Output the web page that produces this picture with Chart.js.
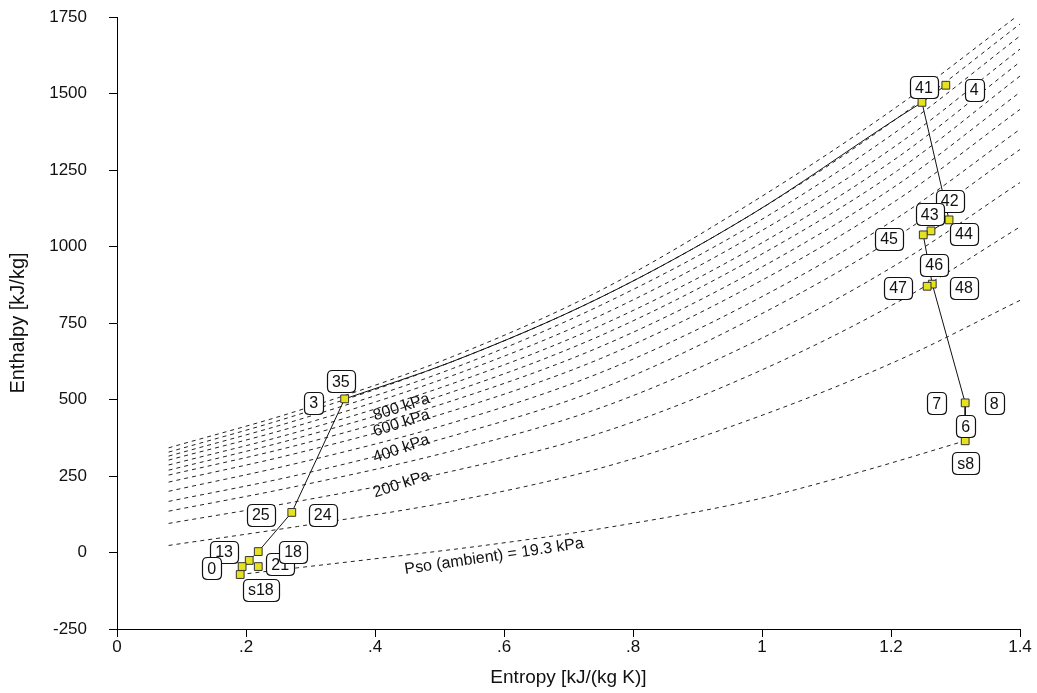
<!DOCTYPE html>
<html>
<head>
<meta charset="utf-8">
<script src="https://cdn.jsdelivr.net/npm/chart.js@4.4.1/dist/chart.umd.min.js"></script>
<style>
  html, body { margin: 0; padding: 0; background: #fff; }
  #wrap { width: 1037px; height: 693px; }
</style>
</head>
<body>
<div id="wrap"><canvas id="hsChart"></canvas></div>
<script>
// --- Data: isobars ---
const entropyGrid = [0.08, 0.28, 0.52, 0.75, 0.98, 1.21, 1.4];
const h100 = [23, 85, 167, 276, 433, 627, 824];
const h200 = [95, 167, 266, 391, 578, 818, 1064];
const h300 = [135, 217, 332, 473, 680, 943, 1209];
const h400 = [167, 253, 381, 535, 759, 1034, 1317];
const h500 = [200, 292, 424, 588, 814, 1094, 1383];
const h600 = [230, 325, 463, 634, 867, 1153, 1448];
const h700 = [253, 351, 496, 673, 910, 1202, 1504];
const h800 = [269, 374, 525, 709, 952, 1248, 1557];
const h900 = [286, 394, 552, 742, 988, 1291, 1603];
const h1000 = [302, 414, 578, 775, 1028, 1333, 1645];
const h1100 = [315, 433, 601, 808, 1064, 1378, 1688];
const h1200 = [328, 450, 624, 834, 1100, 1420, 1727];
const h1300 = [342, 463, 640, 857, 1138, 1458, 1760];
const isobars = [h100, h200, h300, h400, h500, h600, h700, h800, h900, h1000, h1100, h1200, h1300];

// ambient pressure isobar
const psoS = [0.19, 0.28, 0.41, 0.58, 0.75, 0.98, 1.15, 1.315];
const psoH = [-72, -50, -18, 26, 78, 168, 262, 365];

// process lines
const heatS = [0.353, 0.52, 0.75, 0.98, 1.21, 1.248];
const heatH = [502, 624, 834, 1100, 1420, 1471];
const pumpS = [0.353, 0.271, 0.219, 0.205, 0.194, 0.191];
const pumpH = [502, 131, 3, -26, -46, -72];
const turbS = [1.285, 1.248, 1.29, 1.262, 1.25, 1.264, 1.315, 1.315];
const turbH = [1527, 1471, 1087, 1051, 1038, 877, 489, 365];

// state points (markers)
const stateS = [0.353, 0.271, 0.219, 0.205, 0.194, 0.191, 0.219, 1.248, 1.285, 1.29, 1.262, 1.25, 1.264, 1.256, 1.315, 1.315];
const stateH = [502, 131, 3, -26, -46, -72, -46, 1471, 1527, 1087, 1051, 1038, 877, 870, 489, 365];

// state label boxes (centre of box)
const boxText = ['35', '3', '25', '24', '13', '0', '21', '18', 's18', '41', '4', '42', '43', '44', '45', '46', '47', '48', '7', '8', '6', 's8'];
const boxS = [0.347, 0.305, 0.223, 0.319, 0.166, 0.147, 0.253, 0.273, 0.223, 1.251, 1.329, 1.291, 1.26, 1.313, 1.197, 1.267, 1.211, 1.313, 1.271, 1.36, 1.316, 1.316];
const boxH = [559, 490, 124, 124, 3, -52, -39, 3, -121, 1520, 1513, 1150, 1105, 1042, 1026, 941, 866, 866, 487, 487, 412, 291];

// isobar captions (baseline start, angle in degrees)
const captionText = ['800 kPa', '600 kPa', '400 kPa', '200 kPa', 'Pso (ambient) = 19.3 kPa'];
const captionS = [0.4, 0.4, 0.4, 0.4, 0.447];
const captionH = [431, 379, 294, 180, -70];
const captionAngle = [-18, -18, -19, -18, -8.3];

const xTicks = [0, 0.2, 0.4, 0.6, 0.8, 1, 1.2, 1.4];

// --- Helpers ---
const toPoints = (xs, ys) => xs.map((x, i) => ({ x: x, y: ys[i] }));

function roundBox(ctx, x, y, w, h, r) {
    ctx.beginPath();
    ctx.moveTo(x + r, y);
    ctx.lineTo(x + w - r, y);
    ctx.quadraticCurveTo(x + w, y, x + w, y + r);
    ctx.lineTo(x + w, y + h - r);
    ctx.quadraticCurveTo(x + w, y + h, x + w - r, y + h);
    ctx.lineTo(x + r, y + h);
    ctx.quadraticCurveTo(x, y + h, x, y + h - r);
    ctx.lineTo(x, y + r);
    ctx.quadraticCurveTo(x, y, x + r, y);
    ctx.closePath();
}

const annotations = {
    id: 'annotations',
    afterDatasetsDraw(chart) {
        const ctx = chart.ctx;
        const xs = chart.scales.x, ys = chart.scales.y;
        ctx.save();
        // isobar captions
        ctx.fillStyle = '#111';
        ctx.font = '16px "Liberation Sans", Arial, sans-serif';
        ctx.textAlign = 'left';
        ctx.textBaseline = 'alphabetic';
        captionText.forEach((t, i) => {
            ctx.save();
            ctx.translate(xs.getPixelForValue(captionS[i]), ys.getPixelForValue(captionH[i]));
            ctx.rotate(captionAngle[i] * Math.PI / 180);
            ctx.fillText(t, 0, 0);
            ctx.restore();
        });
        // state boxes
        ctx.font = '16px "Liberation Sans", Arial, sans-serif';
        ctx.textAlign = 'center';
        ctx.textBaseline = 'middle';
        boxText.forEach((t, i) => {
            const cx = xs.getPixelForValue(boxS[i]);
            const cy = ys.getPixelForValue(boxH[i]);
            const w = ctx.measureText(t).width + 10;
            const h = 22;
            roundBox(ctx, Math.round(cx - w / 2) + 0.5, Math.round(cy - h / 2) + 0.5, Math.round(w), h, 5);
            ctx.fillStyle = '#fff';
            ctx.fill();
            ctx.strokeStyle = '#111';
            ctx.lineWidth = 1.2;
            ctx.stroke();
            ctx.fillStyle = '#111';
            ctx.fillText(t, cx, cy + 1);
        });
        ctx.restore();
    }
};

// --- Datasets ---
const datasets = [];
datasets.push({
    label: 'states',
    data: toPoints(stateS, stateH),
    showLine: false,
    pointStyle: 'rect',
    pointRadius: 5.5,
    pointBackgroundColor: '#e6e31e',
    pointBorderColor: '#333',
    pointBorderWidth: 1,
    order: 0
});
[[heatS, heatH], [pumpS, pumpH], [turbS, turbH]].forEach(([s, h]) => {
    datasets.push({
        data: toPoints(s, h),
        showLine: true,
        borderColor: '#111',
        borderWidth: 1,
        pointRadius: 0,
        cubicInterpolationMode: 'monotone',
        order: 1
    });
});
// heat line is curved, the other two are straight
datasets[2].cubicInterpolationMode = 'default';
datasets[3].cubicInterpolationMode = 'default';
isobars.forEach(h => {
    datasets.push({
        data: toPoints(entropyGrid, h),
        showLine: true,
        borderColor: '#222',
        borderWidth: 1,
        borderDash: [4, 4],
        pointRadius: 0,
        cubicInterpolationMode: 'monotone',
        order: 2
    });
});
datasets.push({
    data: toPoints(psoS, psoH),
    showLine: true,
    borderColor: '#222',
    borderWidth: 1,
    borderDash: [4, 4],
    pointRadius: 0,
    cubicInterpolationMode: 'monotone',
    order: 2
});

// --- Chart ---
Chart.defaults.font.family = '"Liberation Sans", Arial, sans-serif';
Chart.defaults.color = '#111';

new Chart(document.getElementById('hsChart').getContext('2d'), {
    type: 'scatter',
    data: { datasets: datasets },
    options: {
        responsive: true,
        maintainAspectRatio: false,
        animation: false,
        events: [],
        layout: { padding: { top: 17, right: 17, left: 0, bottom: 0 } },
        plugins: { legend: { display: false }, tooltip: { enabled: false } },
        scales: {
            x: {
                type: 'linear',
                min: 0,
                max: 1.4,
                afterBuildTicks: scale => { scale.ticks = xTicks.map(v => ({ value: v })); },
                afterFit: scale => { scale.height = 64; },
                ticks: {
                    font: { size: 17 },
                    padding: 0,
                    maxRotation: 0,
                    callback: v => String(Math.round(v * 10) / 10).replace(/^0\./, '.')
                },
                grid: { drawOnChartArea: false, drawTicks: true, tickLength: 8, color: '#000' },
                border: { color: '#000', width: 1 },
                title: { display: true, text: 'Entropy [kJ/(kg K)]', font: { size: 19 }, padding: { top: 4 } }
            },
            y: {
                min: -250,
                max: 1750,
                afterFit: scale => {
                    scale.width = 117;
                    scale.paddingTop = 0;
                    scale.paddingBottom = 0;
                },
                ticks: { stepSize: 250, font: { size: 17 }, padding: 22, callback: v => String(v) },
                grid: { drawOnChartArea: false, drawTicks: true, tickLength: 8, color: '#000' },
                border: { color: '#000', width: 1 },
                title: { display: true, text: 'Enthalpy [kJ/kg]', font: { size: 20 }, padding: { top: 6, bottom: 0 } }
            }
        }
    },
    plugins: [annotations]
});
</script>
</body>
</html>
